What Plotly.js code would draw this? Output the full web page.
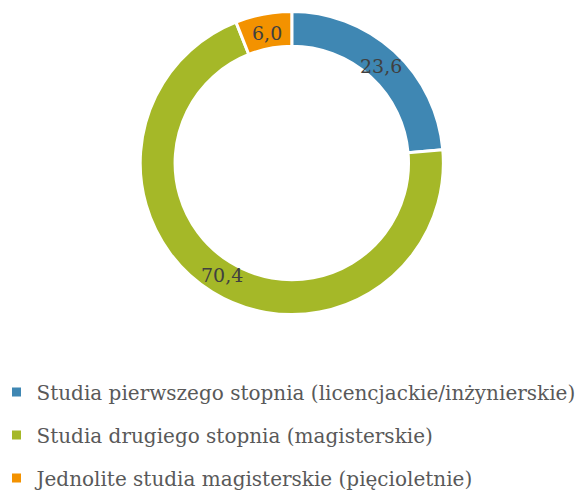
<!DOCTYPE html>
<html>
<head>
<meta charset="utf-8">
<script src="https://cdn.plot.ly/plotly-3.0.1.min.js"></script>
<style>html,body{margin:0;padding:0;background:#fff;}#chart{width:583px;height:494px;}</style>
</head>
<body>
<div id="chart"></div>
<script>
const categories = [
  "Studia pierwszego stopnia (licencjackie/inżynierskie)",
  "Studia drugiego stopnia (magisterskie)",
  "Jednolite studia magisterskie (pięcioletnie)"
];
const values = [23.6, 70.4, 6.0];
const valueLabels = ["23,6", "70,4", "6,0"];
const colors = ["#3F87B3", "#A5B828", "#F39200"];

const W = 583, H = 494;
const FONT = "'DejaVu Serif', 'Liberation Serif', serif";
const dom = { x: [0.2405, 0.7605], y: [0.36, 0.98] };

const pie = {
  type: "pie",
  labels: categories,
  values: values,
  textinfo: "none",
  hole: 0.77,
  sort: false,
  direction: "clockwise",
  rotation: 0,
  marker: { colors: colors, line: { color: "#ffffff", width: 3 } },
  domain: dom,
  showlegend: false,
  hoverinfo: "label+value"
};

// legend entries (one per category)
const legendTraces = categories.map((c, i) => ({
  type: "scatter", mode: "markers",
  x: [null], y: [null],
  name: c, legendgroup: "g" + i,
  marker: { symbol: "square", size: 9, color: colors[i] },
  hoverinfo: "skip"
}));

// value labels placed at the middle of each ring segment, derived from the values
const total = values.reduce((a, b) => a + b, 0);
const cx = (dom.x[0] + dom.x[1]) / 2 * W;
const cy = (dom.y[0] + dom.y[1]) / 2 * H;
const R = Math.min((dom.x[1] - dom.x[0]) * W, (dom.y[1] - dom.y[0]) * H) / 2;
const rMid = R * (1 + 0.77) / 2 - 2;
let cum = 0;
const annotations = values.map((v, i) => {
  const a = (cum + v / 2) / total * 2 * Math.PI;
  cum += v;
  return {
    xref: "paper", yref: "paper",
    x: (cx + rMid * Math.sin(a)) / W,
    y: (cy + rMid * Math.cos(a)) / H,
    text: valueLabels[i], showarrow: false,
    xanchor: "center", yanchor: "middle",
    font: { family: FONT, size: 19, color: "#404040" }
  };
});

const layout = {
  width: W, height: H,
  margin: { l: 0, r: 0, t: 0, b: 0, autoexpand: false },
  paper_bgcolor: "#ffffff",
  plot_bgcolor: "#ffffff",
  xaxis: { visible: false },
  yaxis: { visible: false },
  showlegend: true,
  annotations: annotations,
  legend: {
    orientation: "v",
    traceorder: "grouped",
    tracegroupgap: 14,
    x: -0.006, xanchor: "left",
    y: 0.246, yanchor: "top",
    font: { family: FONT, size: 20, color: "#595959" },
    itemwidth: 30,
    bgcolor: "rgba(0,0,0,0)"
  }
};

Plotly.newPlot("chart", [pie].concat(legendTraces), layout, { displayModeBar: false });
</script>
</body>
</html>
